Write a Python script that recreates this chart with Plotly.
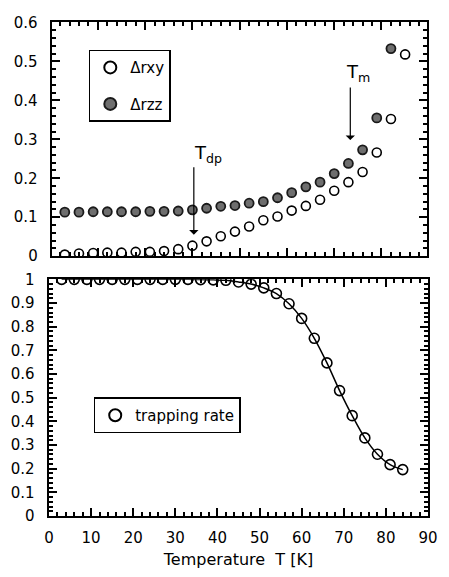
import plotly.graph_objects as go

# ---- data ----
T_xy = [3, 6, 9, 12, 15, 18, 21, 24, 27, 30, 33, 36, 39, 42, 45, 48, 51, 54, 57, 60, 63, 66, 69, 72, 75]
r_xy = [0.004, 0.007, 0.008, 0.009, 0.009, 0.011, 0.011, 0.013, 0.018, 0.027, 0.038, 0.051, 0.063,
        0.076, 0.092, 0.102, 0.117, 0.129, 0.145, 0.168, 0.19, 0.216, 0.266, 0.352, 0.518]
T_zz = [3, 6, 9, 12, 15, 18, 21, 24, 27, 30, 33, 36, 39, 42, 45, 48, 51, 54, 57, 60, 63, 66, 69, 72]
r_zz = [0.113, 0.113, 0.114, 0.114, 0.114, 0.114, 0.115, 0.115, 0.116, 0.119, 0.123, 0.128, 0.13,
        0.136, 0.14, 0.15, 0.163, 0.178, 0.19, 0.212, 0.238, 0.273, 0.355, 0.533]
T_trap = [3, 6, 9, 12, 15, 18, 21, 24, 27, 30, 33, 36, 39, 42, 45, 48, 51, 54, 57, 60, 63, 66, 69,
          72, 75, 78, 81, 84]
trap = [1.0, 1.0, 1.0, 1.0, 1.0, 1.0, 1.0, 1.0, 1.0, 1.0, 1.0, 0.999, 0.998, 0.996, 0.989, 0.98,
        0.964, 0.94, 0.897, 0.835, 0.751, 0.647, 0.53, 0.424, 0.33, 0.261, 0.217, 0.196]

arrow_labels = ["T<sub>dp</sub>", "T<sub>m</sub>"]
arrow_T = [30.3, 63.4]

FONT = "DejaVu Sans"
fig = go.Figure()

fig.add_trace(go.Scatter(
    x=T_xy, y=r_xy, mode="markers", name="Δrxy", legendgroup="a",
    marker=dict(symbol="circle-open", size=9, color="black", line=dict(width=1.6)),
    xaxis="x", yaxis="y", legend="legend"))
fig.add_trace(go.Scatter(
    x=T_zz, y=r_zz, mode="markers", name="Δrzz", legendgroup="b",
    marker=dict(symbol="circle", size=9, color="#6e6e6e", line=dict(width=1.8, color="#1a1a1a")),
    xaxis="x", yaxis="y", legend="legend"))

fig.add_trace(go.Scatter(
    x=T_trap, y=trap, mode="lines", showlegend=False,
    line=dict(color="black", width=1.5, shape="spline", smoothing=1.0),
    xaxis="x2", yaxis="y2"))
fig.add_trace(go.Scatter(
    x=T_trap, y=trap, mode="markers", name="trapping rate",
    marker=dict(symbol="circle-open", size=10, color="black", line=dict(width=1.6)),
    xaxis="x2", yaxis="y2", legend="legend2"))

axis_common = dict(
    showline=True, linecolor="black", linewidth=1.6, mirror="allticks",
    ticks="inside", ticklen=8, tickwidth=2, tickcolor="black",
    showgrid=False, zeroline=False,
    tickfont=dict(family=FONT, size=15, color="black"),
)
minor_common = dict(ticks="inside", ticklen=4, tickwidth=1.5, tickcolor="black", showgrid=False)
YSUF = "\u00a0\u00a0"

fig.update_layout(
    width=449, height=577,
    margin=dict(l=47, r=11, t=22, b=54),
    paper_bgcolor="white", plot_bgcolor="white",
    font=dict(family=FONT, color="black"),
    showlegend=True,
    xaxis=dict(axis_common, domain=[0.008, 0.997], range=[0.3, 79.6], tick0=0, dtick=10,
               showticklabels=False, anchor="y",
               minor=dict(minor_common, dtick=2)),
    yaxis=dict(axis_common, domain=[0.526, 0.999], range=[0, 0.6], dtick=0.1, anchor="x",
               ticksuffix=YSUF, minor=dict(minor_common, dtick=0.02)),
    xaxis2=dict(axis_common, domain=[0, 1], range=[0, 90], dtick=10, anchor="y2",
                ticklabelstandoff=7,
                title=dict(text="Temperature  T [K]", font=dict(family=FONT, size=16), standoff=8),
                minor=dict(minor_common, dtick=2)),
    yaxis2=dict(axis_common, domain=[0, 0.479], range=[0, 1], dtick=0.1, anchor="x2",
                ticksuffix=YSUF, minor=dict(minor_common, dtick=0.02)),
    legend=dict(x=0.105, y=0.944, xanchor="left", yanchor="top",
                bordercolor="black", borderwidth=1.5, bgcolor="white",
                font=dict(family=FONT, size=15), tracegroupgap=14,
                itemsizing="constant"),
    legend2=dict(x=0.118, y=0.240, xanchor="left", yanchor="top",
                 bordercolor="black", borderwidth=1.5, bgcolor="white",
                 font=dict(family=FONT, size=15), itemsizing="constant"),
)

# arrows (Tdp, Tm)
arrow_tip = [0.055, 0.298]
arrow_tail = [0.232, 0.437]
label_pos = [(33.2, 0.262), (65.0, 0.47)]
for lab, xt, tip, tail, (lx, ly) in zip(arrow_labels, arrow_T, arrow_tip, arrow_tail, label_pos):
    fig.add_annotation(x=xt, y=tip, ax=xt, ay=tail, xref="x", yref="y", axref="x", ayref="y",
                       text="", showarrow=True, arrowhead=1, arrowsize=1.3, arrowwidth=1.2,
                       arrowcolor="black")
    fig.add_annotation(x=lx, y=ly, xref="x", yref="y", text=lab, showarrow=False,
                       font=dict(family=FONT, size=18, color="black"))

fig.write_html("out.html")
